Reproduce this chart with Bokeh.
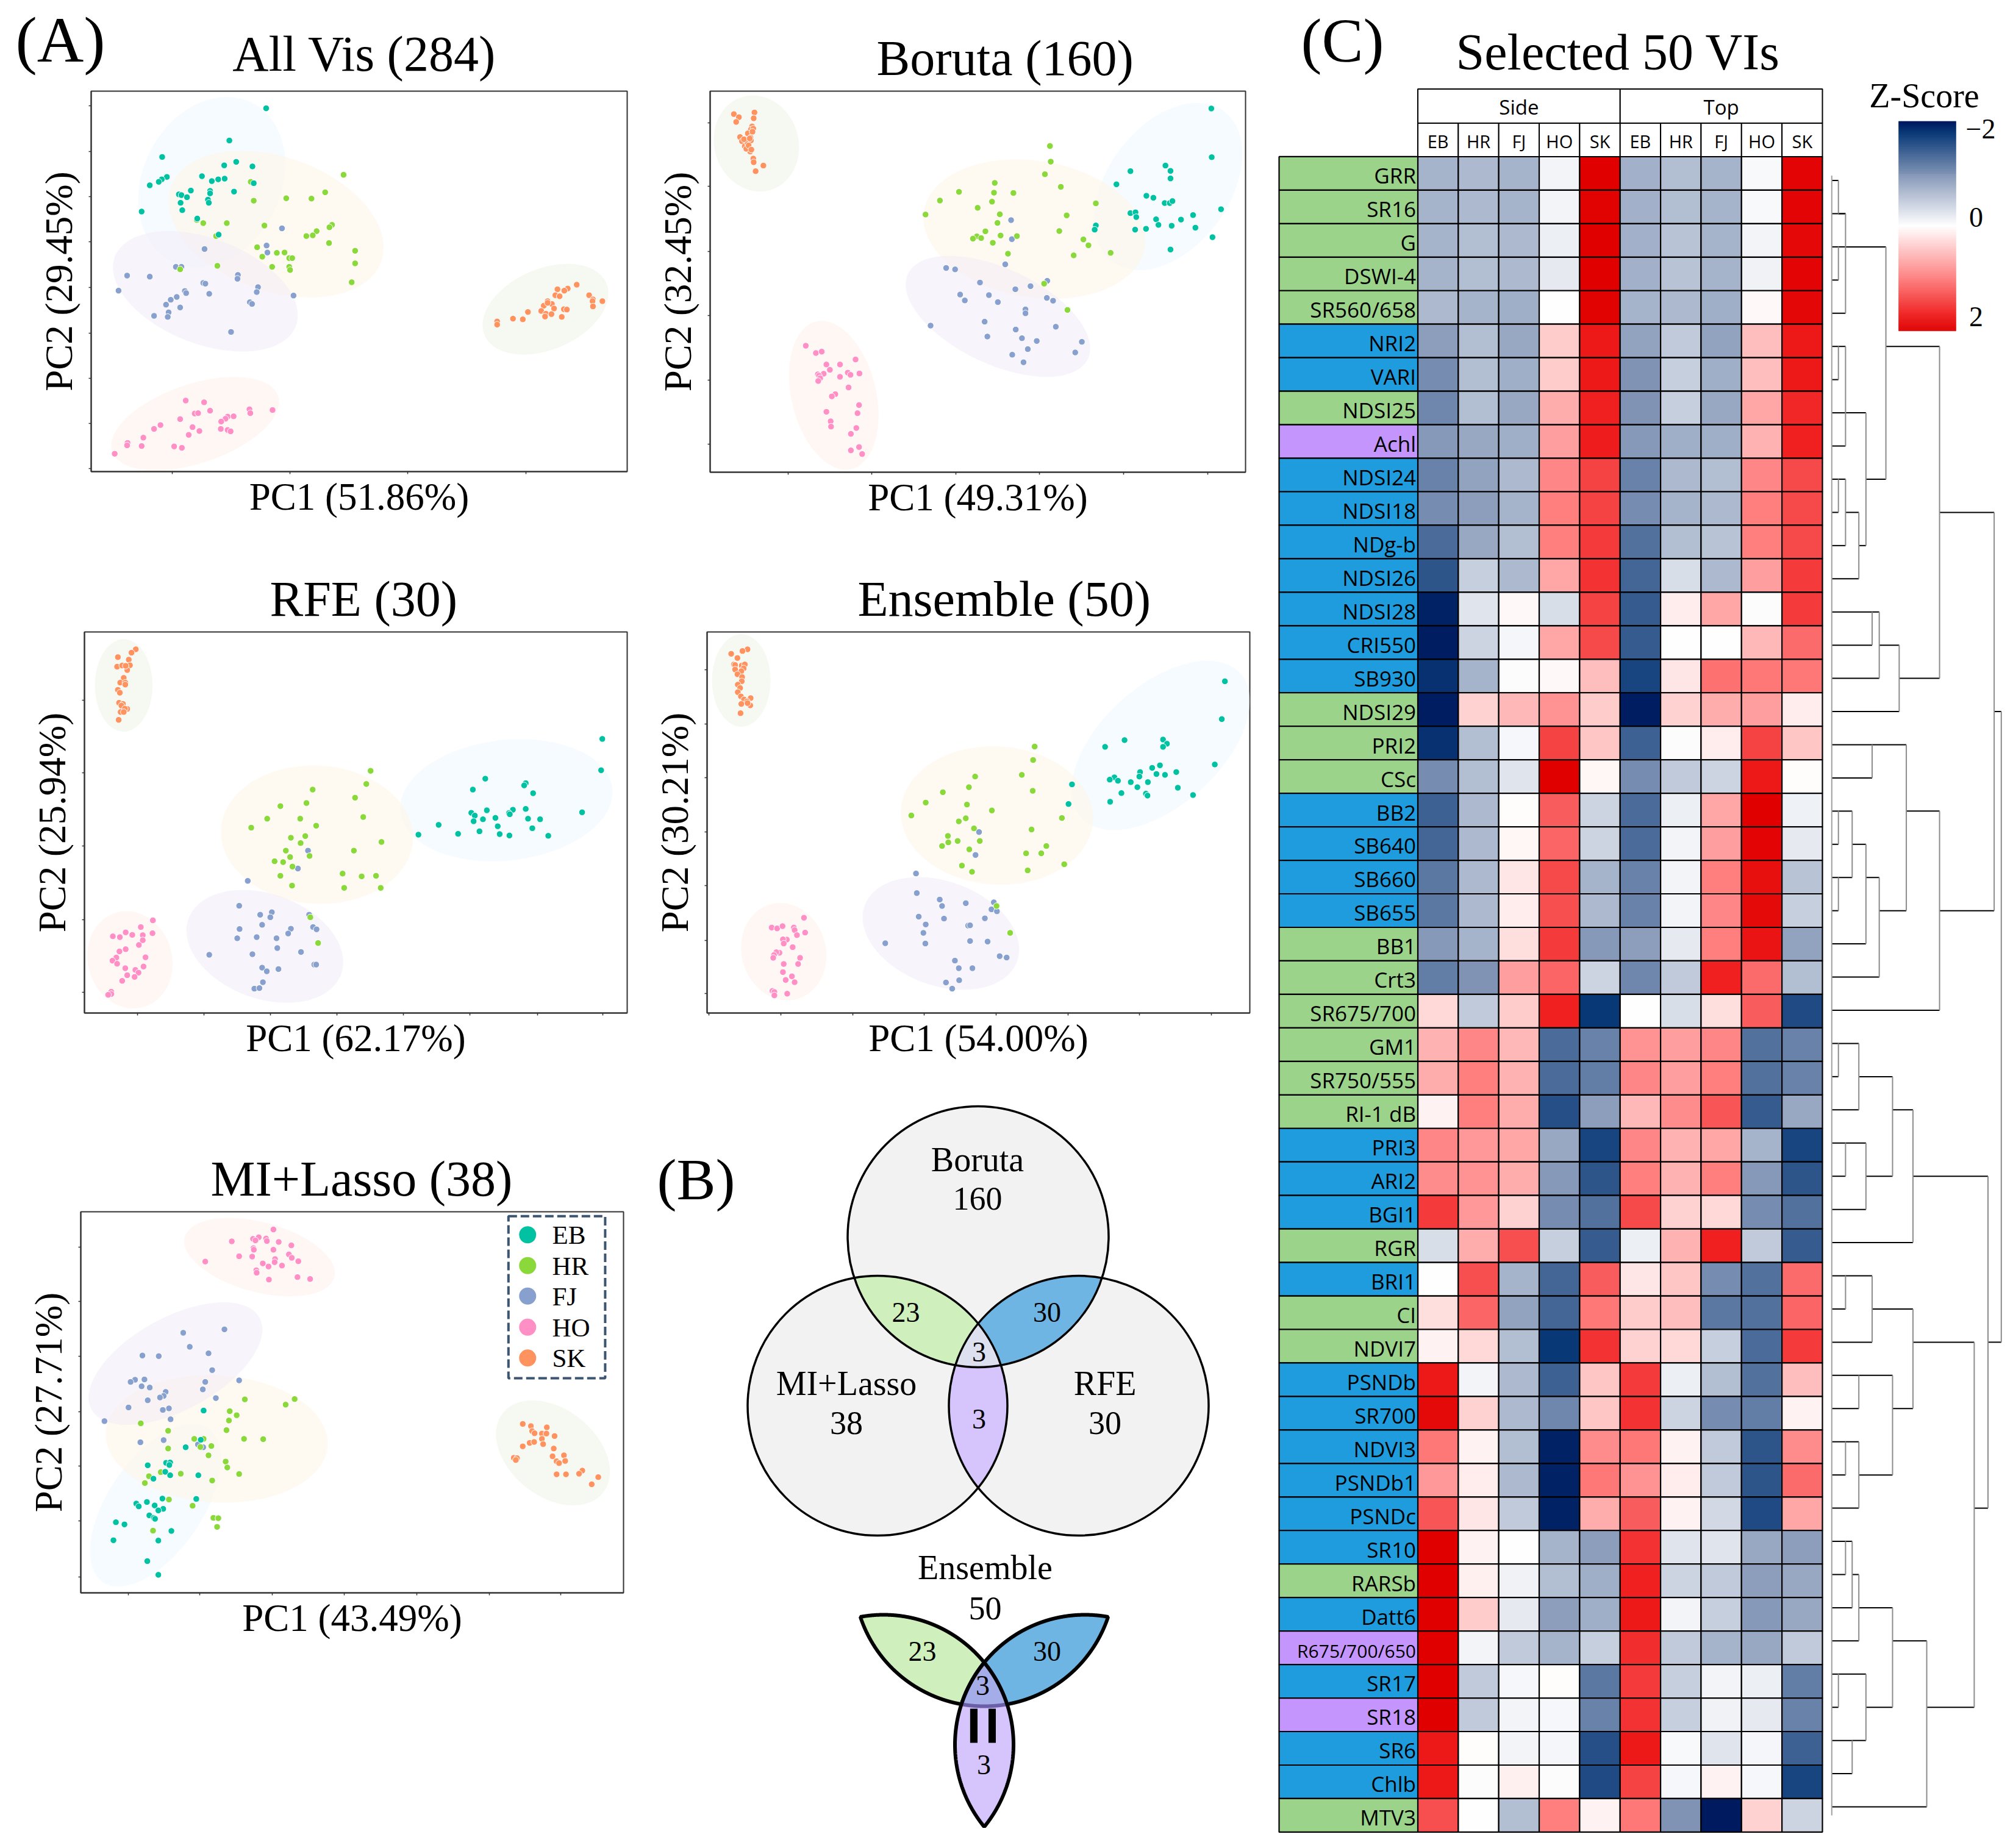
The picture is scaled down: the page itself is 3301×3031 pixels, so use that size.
import numpy as np
from bokeh.plotting import figure
from bokeh.layouts import row, column
from bokeh.embed import file_html
from bokeh.resources import INLINE
from bokeh.core.properties import value
from bokeh.models import Range1d, FixedTicker, LinearColorMapper, ColumnDataSource

SERIF = "Liberation Serif"
SANS = "Open Sans"
GROUPS = ["EB", "HR", "FJ", "HO", "SK"]
COLORS = {"EB": "#00c2a2", "HR": "#8bd83a", "FJ": "#87a0ce", "HO": "#ff8fc4", "SK": "#ff9360"}
HALO = {"EB": "#eef8ff", "HR": "#fff5e4", "FJ": "#f1e9f8", "HO": "#fff0e8", "SK": "#edf3e6"}
BASE_K = 0.36

# ---- PCA scores (arbitrary units, PC2 grows downward in the units used here) ----
allvis_EB = [(622,309),(536,401),(379,448),(524,472),(552,462),(590,475),(472,503),(390,505),(378,512),(371,519),(350,529),(495,517),(510,512),(525,510),(593,523),(446,544),(418,555),(424,557),(437,563),(491,545),(491,552),(547,547),(486,570),(488,579),(422,579),(426,600),(331,604),(461,624),(511,670)]
allvis_HR = [(803,499),(586,519),(760,549),(593,573),(669,566),(728,567),(475,637),(530,637),(618,644),(776,642),(770,649),(740,660),(731,672),(716,674),(505,674),(769,694),(601,706),(647,722),(665,721),(830,716),(613,733),(676,737),(683,737),(636,762),(676,762),(678,771),(830,752),(508,759),(421,769),(822,806),(460,628)]
allvis_FJ = [(659,652),(623,701),(478,711),(625,721),(411,762),(424,762),(297,787),(350,790),(556,785),(555,796),(475,808),(480,810),(603,820),(600,834),(277,830),(432,831),(435,837),(489,839),(413,848),(399,856),(388,870),(584,863),(589,868),(686,844),(421,878),(394,892),(360,902),(392,905),(540,948)]
allvis_HO = [(434,1144),(477,1149),(491,1173),(583,1169),(585,1180),(637,1171),(455,1181),(463,1180),(532,1190),(546,1189),(527,1196),(517,1204),(421,1197),(375,1214),(360,1225),(450,1220),(516,1225),(532,1228),(539,1232),(466,1231),(441,1242),(335,1250),(298,1265),(297,1272),(331,1274),(407,1275),(425,1279),(268,1296)]
allvis_SK = [(1348,813),(1303,826),(1327,824),(1319,830),(1298,843),(1308,846),(1377,843),(1386,855),(1385,860),(1408,860),(1386,875),(1280,860),(1290,868),(1271,873),(1280,865),(1295,881),(1265,888),(1318,883),(1325,884),(1234,891),(1276,896),(1289,897),(1274,904),(1313,905),(1199,910),(1222,912),(1162,918),(1162,927)]
allvis_ell = {"EB":(495,520,248,165,75),"HR":(645,640,270,185,-30),"FJ":(480,832,235,145,-30),"HO":(456,1210,210,110,25),"SK":(1275,883,162,110,35)}

boruta_EB = [(1390,168),(1391,342),(1272,372),(1285,391),(1182,392),(1285,418),(1146,439),(1223,480),(1241,487),(1270,506),(1283,506),(1290,499),(1415,528),(1182,542),(1195,539),(1197,556),(1248,564),(1343,549),(1312,565),(1093,586),(1090,601),(1194,601),(1222,598),(1254,584),(1288,587),(1349,594),(1393,628),(1285,672)]
boruta_HR = [(975,302),(977,358),(962,403),(833,434),(1003,448),(741,466),(831,469),(881,470),(692,497),(826,501),(1093,507),(789,523),(655,547),(846,546),(1018,550),(840,577),(809,607),(999,606),(848,622),(890,624),(787,625),(777,633),(798,631),(1061,636),(828,648),(1074,657),(867,687),(1131,684),(1036,693),(960,794),(1020,888)]
boruta_FJ = [(875,567),(877,635),(860,725),(708,738),(731,743),(968,784),(795,790),(925,803),(886,814),(744,833),(818,835),(756,854),(841,860),(967,845),(983,855),(912,886),(912,900),(668,944),(807,930),(990,948),(887,958),(814,983),(903,989),(941,999),(1057,1002),(918,1028),(878,1048),(1040,1040),(907,1075)]
boruta_HO = [(347,1016),(373,1042),(388,1037),(475,1065),(400,1083),(435,1083),(409,1102),(393,1116),(378,1118),(381,1123),(384,1132),(379,1142),(435,1127),(455,1112),(462,1120),(485,1115),(457,1165),(423,1189),(414,1197),(484,1228),(400,1252),(480,1257),(411,1286),(412,1305),(477,1310),(463,1331),(484,1378),(463,1390),(492,1403)]
boruta_SK = [(162,188),(175,199),(168,216),(215,182),(213,203),(209,232),(206,243),(212,240),(198,257),(210,251),(178,270),(205,272),(183,285),(196,285),(190,303),(197,292),(201,315),(204,322),(194,312),(206,282),(212,347),(213,360),(238,372),(218,392),(188,278),(200,300),(207,315),(203,275)]
boruta_ell = {"EB":(1279,447,312,168,70),"HR":(935,599,295,238,-25),"FJ":(841,911,281,155,-40),"HO":(419,1193,268,110,98),"SK":(220,293,172,109,95)}

rfe_EB = [(1455,504),(1452,616),(1154,646),(1258,662),(1254,670),(1122,685),(1277,698),(1403,766),(1158,759),(1225,757),(1258,754),(1118,768),(1127,778),(1215,769),(1217,773),(1180,786),(1148,791),(1124,798),(1264,789),(1295,791),(1034,811),(1186,816),(1275,823),(1139,834),(1084,843),(982,846),(1191,844),(1216,849),(1316,850)]
rfe_HR = [(859,618),(848,665),(710,685),(819,714),(694,733),(627,744),(840,783),(593,789),(678,789),(719,814),(552,821),(691,851),(654,857),(679,876),(887,872),(641,903),(816,903),(702,922),(652,926),(612,941),(634,944),(658,960),(787,985),(627,993),(836,995),(873,993),(657,1028),(791,1036),(885,1036),(704,1141),(724,1233)]
rfe_FJ = [(521,1100),(605,1123),(575,1132),(601,1141),(701,1132),(580,1168),(522,1183),(654,1182),(711,1176),(720,1184),(647,1199),(566,1212),(516,1216),(617,1216),(619,1251),(444,1275),(555,1273),(680,1265),(714,1310),(719,1310),(580,1321),(622,1326),(592,1334),(582,1373),(560,1396),(573,1394),(698,903),(672,967),(543,1011)]
rfe_HO = [(299,1152),(268,1176),(298,1198),(229,1195),(246,1204),(273,1205),(196,1209),(214,1212),(273,1223),(263,1240),(229,1255),(213,1263),(280,1284),(205,1285),(195,1296),(207,1307),(275,1317),(228,1323),(254,1329),(262,1339),(233,1348),(252,1354),(220,1368),(192,1407),(192,1415),(184,1418)]
rfe_SK = [(255,184),(244,196),(209,212),(237,221),(207,246),(220,242),(240,241),(233,258),(229,243),(224,286),(215,303),(228,303),(228,310),(209,329),(214,339),(212,375),(222,379),(218,385),(233,397),(227,396),(216,408),(224,408),(211,436)]
rfe_ell = {"EB":(1208,723,277,213,15),"HR":(721,846,252,242,-45),"FJ":(587,1245,228,171,-45),"HO":(240,1293,174,109,95),"SK":(224,313,165,74,90)}

ensemble_EB = [(1424,298),(1416,433),(1166,508),(1265,506),(1275,521),(1265,532),(1116,532),(1398,595),(1257,598),(1237,607),(1206,622),(1299,622),(1248,629),(1270,632),(1204,638),(1140,641),(1128,649),(1149,653),(1182,658),(1226,658),(1031,666),(1199,676),(1303,678),(1158,697),(1221,699),(1225,706),(1342,704),(1129,728),(1022,736)]
ensemble_HR = [(935,531),(931,579),(902,632),(782,638),(766,676),(699,694),(930,689),(655,731),(761,738),(825,759),(618,777),(758,787),(1005,786),(740,798),(779,823),(927,827),(712,850),(794,868),(713,873),(737,868),(697,886),(965,886),(767,898),(913,912),(952,912),(748,956),(1011,951),(774,978),(917,973),(837,1100),(872,1196)]
ensemble_FJ = [(792,836),(783,918),(630,984),(632,1054),(691,1077),(697,1100),(758,1090),(830,1087),(824,1112),(838,1119),(637,1138),(702,1145),(807,1144),(655,1166),(764,1170),(769,1169),(649,1196),(551,1233),(654,1234),(769,1225),(814,1227),(845,1279),(863,1284),(730,1295),(740,1322),(775,1322),(741,1365),(707,1373),(723,1395)]
ensemble_HO = [(342,1142),(259,1177),(273,1180),(287,1172),(316,1177),(318,1186),(345,1195),(324,1204),(298,1220),(288,1219),(290,1234),(313,1247),(279,1267),(271,1265),(265,1275),(263,1285),(332,1285),(290,1307),(327,1307),(288,1336),(311,1351),(295,1364),(318,1372),(261,1403),(266,1407),(266,1419),(299,1413)]
ensemble_SK = [(197,184),(184,190),(155,200),(171,215),(162,238),(165,240),(182,242),(190,238),(187,252),(165,256),(181,262),(171,273),(183,283),(182,298),(172,310),(178,322),(172,337),(180,352),(205,358),(188,363),(196,370),(181,379),(204,384),(197,376),(179,412)]
ensemble_ell = {"EB":(1259,527,336,175,59),"HR":(838,777,252,242,-45),"FJ":(694,1198,228,170,-45),"HO":(290,1263,174,109,95),"SK":(181,295,165,75,90)}

milasso_EB = [(498,809),(491,903),(454,927),(406,977),(416,976),(361,985),(414,984),(404,1006),(416,1017),(485,1017),(375,1028),(397,1092),(480,1093),(359,1103),(333,1108),(378,1114),(339,1117),(399,1125),(387,1130),(365,1146),(376,1154),(379,1157),(283,1168),(304,1175),(419,1196),(277,1226),(387,1227),(360,1293),(387,1337)]
milasso_HR = [(721,772),(599,773),(699,790),(562,811),(579,824),(560,841),(344,850),(554,872),(411,874),(475,900),(498,900),(597,900),(644,901),(517,923),(490,926),(411,931),(510,953),(552,973),(556,992),(442,1012),(393,1007),(585,1013),(364,1020),(519,1034),(354,1042),(413,1095),(471,1115),(522,1154),(534,1155),(531,1183),(374,1195)]
milasso_FJ = [(549,548),(448,559),(464,604),(510,625),(348,632),(388,634),(519,679),(353,709),(330,710),(319,717),(502,717),(585,712),(346,731),(366,735),(496,741),(405,749),(400,762),(391,767),(361,776),(528,769),(314,799),(413,802),(398,807),(417,837),(255,843),(400,904),(343,911),(484,918),(497,927)]
milasso_HO = [(669,227),(633,252),(651,256),(619,257),(567,265),(625,262),(653,264),(682,267),(713,278),(620,287),(621,292),(669,292),(707,307),(714,318),(585,313),(617,314),(673,322),(672,332),(730,329),(502,330),(643,336),(657,346),(690,343),(627,358),(628,366),(728,380),(759,386),(658,388)]
milasso_SK = [(1280,852),(1300,859),(1339,863),(1303,875),(1309,882),(1327,883),(1338,883),(1358,891),(1327,900),(1280,924),(1297,913),(1308,910),(1330,917),(1356,931),(1381,953),(1353,956),(1258,961),(1266,962),(1263,968),(1363,972),(1384,971),(1369,978),(1363,1014),(1386,1014),(1426,1002),(1418,1012),(1465,1023),(1449,1046)]
milasso_ell = {"EB":(380,1113,281,123,66),"HR":(530,900,273,204,-7),"FJ":(429,658,256,136,41),"HO":(635,316,195,109,-23),"SK":(1354,945,183,120,-59)}

# ---- heatmap ----
vi_names = ["GRR","SR16","G","DSWI-4","SR560/658","NRI2","VARI","NDSI25","Achl","NDSI24","NDSI18","NDg-b","NDSI26","NDSI28","CRI550","SB930","NDSI29","PRI2","CSc","BB2","SB640","SB660","SB655","BB1","Crt3","SR675/700","GM1","SR750/555","RI-1 dB","PRI3","ARI2","BGI1","RGR","BRI1","CI","NDVI7","PSNDb","SR700","NDVI3","PSNDb1","PSNDc","SR10","RARSb","Datt6","R675/700/650","SR17","SR18","SR6","Chlb","MTV3"]
vi_group = ["g","g","g","g","g","b","b","g","p","b","b","b","b","b","b","b","g","g","g","b","b","b","b","g","g","g","g","g","g","b","b","b","g","b","g","g","b","b","b","b","b","b","g","b","p","b","p","b","b","g"]
col_names = ["EB","HR","FJ","HO","SK","EB","HR","FJ","HO","SK"]
zscores = [
[-.7,-.65,-.7,-.1,2,-.72,-.6,-.7,-.05,1.95],
[-.7,-.65,-.7,-.1,1.97,-.72,-.6,-.7,-.05,1.95],
[-.7,-.6,-.65,-.15,2,-.72,-.55,-.7,-.1,1.92],
[-.7,-.6,-.65,-.2,2,-.72,-.55,-.7,-.12,1.95],
[-.65,-.7,-.75,0,1.98,-.7,-.65,-.75,.05,1.93],
[-.9,-.6,-.8,.4,1.75,-.85,-.5,-.85,.5,1.75],
[-1.05,-.6,-.75,.4,1.75,-1,-.45,-.75,.5,1.75],
[-1.1,-.6,-.8,.65,1.7,-1,-.45,-.8,.7,1.65],
[-.95,-.8,-.75,.75,1.72,-.95,-.75,-.75,.6,1.7],
[-1.15,-.85,-.65,.95,1.45,-1.15,-.65,-.6,.95,1.4],
[-1.05,-.9,-.7,1.0,1.45,-1.05,-.7,-.65,1.0,1.4],
[-1.35,-.8,-.6,1.0,1.5,-1.3,-.6,-.55,1.0,1.4],
[-1.55,-.45,-.65,.7,1.55,-1.4,-.3,-.65,.75,1.5],
[-1.95,-.25,.05,-.3,1.45,-1.5,.15,.7,-.03,1.5],
[-1.97,-.4,-.08,.7,1.4,-1.5,0,0,.55,1.15],
[-1.85,-.7,-.03,.05,.5,-1.7,.2,1.1,1.05,1.05],
[-1.97,.35,.55,.85,.4,-1.98,.35,.65,.75,.15],
[-1.85,-.6,-.07,1.45,.45,-1.45,-.02,.15,1.45,.45],
[-1.05,-.6,-.25,2,.07,-1.05,-.5,-.4,1.75,.02],
[-1.45,-.65,.03,1.25,-.4,-1.35,-.15,.7,2,-.13],
[-1.4,-.65,.07,1.2,-.4,-1.35,-.1,.75,1.95,-.2],
[-1.25,-.65,.2,1.4,-.7,-1.15,-.1,1,1.85,-.55],
[-1.25,-.65,.15,1.35,-.65,-1.15,-.1,.95,1.9,-.45],
[-.95,-.7,.25,1.5,-.95,-.9,-.2,1.0,1.8,-.85],
[-1.2,-1.0,.75,1.2,-.4,-1.1,-.5,1.7,1.15,-.6],
[.3,-.5,.4,1.7,-1.8,0,-.3,.25,1.25,-1.65],
[.6,.95,.55,-1.35,-1.15,.85,.75,.95,-1.3,-1.15],
[.65,1.0,.6,-1.35,-1.2,.95,.75,1.0,-1.3,-1.15],
[.1,1.0,.65,-1.6,-.9,.55,.9,1.3,-1.5,-.8],
[.95,.8,.7,-.8,-1.7,.95,.6,.7,-.7,-1.7],
[.9,.85,.65,-.95,-1.55,1,.6,1.0,-.95,-1.55],
[1.5,.8,.35,-1.05,-1.3,1.4,.35,.3,-1.05,-1.3],
[-.3,.65,1.35,-.45,-1.5,-.15,.6,1.7,-.5,-1.5],
[0,1.35,-.7,-1.4,1.25,.2,.45,-1.05,-1.3,1.15],
[.25,1.2,-.85,-1.4,1.05,.4,.5,-1.25,-1.3,1.2],
[.1,.3,-.6,-1.8,1.55,.35,.3,-.45,-1.35,1.5],
[1.75,-.1,-.65,-1.45,.45,1.5,-.15,-.6,-1.3,.5],
[1.9,.35,-.65,-1.1,.45,1.55,-.4,-1.05,-1.2,.1],
[1.05,.1,-.6,-1.95,.9,1.05,.1,-.5,-1.55,.9],
[.8,.15,-.65,-1.95,1.05,.85,.15,-.5,-1.55,1.15],
[1.3,.2,-.5,-1.95,.65,1.25,.1,-.35,-1.65,.7],
[2,.1,0,-.7,-.9,1.55,-.25,-.25,-.8,-.9],
[2,.12,-.12,-.6,-.75,1.7,-.4,-.5,-.9,-.8],
[2,.4,-.2,-.9,-.75,1.75,-.1,-.45,-.95,-.8],
[2,-.1,-.5,-.7,-.45,1.6,-.5,-.7,-.8,-.5],
[2,-.5,-.07,.02,-1.25,1.5,-.45,-.1,-.15,-1.2],
[2,-.5,-.1,-.07,-1.15,1.55,-.45,-.12,-.2,-1.15],
[1.75,.02,-.1,-.08,-1.6,1.75,-.05,-.25,-.08,-1.45],
[1.75,-.03,.12,-.03,-1.65,1.45,-.07,.1,-.07,-1.7],
[1.35,0,-.6,1.0,.1,1.05,-1,-2,.35,-.4],
]
# dendrogram: merge height (arbitrary), first row, last row, row of the stem, parent height
leaf_parent = [1192,1207,1192,1192,1207,1192,1192,1207,1207,1192,1192,1207,1235,1263,1263,1278,1320,1263,1263,1192,1192,1192,1192,1250,1278,1405,1192,1192,1235,1207,1207,1250,1349,1207,1207,1263,1235,1235,1207,1207,1235,1207,1207,1221,1235,1192,1192,1221,1221,1378]
merges = [(1192,0,1,1,1207),(1192,2,3,2,1207),(1207,1,4,2,1292),(1192,5,6,5,1207),(1207,5,8,7,1250),(1192,9,10,9,1207),(1207,9,11,10,1235),(1235,10,12,11,1250),(1250,7,11,9,1292),(1292,2,9,5,1405),
(1263,13,14,13,1278),(1278,13,15,14,1320),(1320,14,16,15,1405),(1405,5,15,10,1520),(1263,17,18,17,1335),(1192,19,20,19,1221),(1192,21,22,21,1221),(1221,19,21,20,1250),(1250,20,23,21,1278),(1278,21,24,22,1335),(1335,17,22,19,1405),(1405,19,25,22,1520),(1520,10,22,16,1535),
(1192,26,27,26,1235),(1235,26,28,27,1306),(1207,29,30,29,1250),(1250,29,31,30,1306),(1306,27,30,28,1349),(1349,28,32,30,1507),(1207,33,34,33,1263),(1263,33,35,34,1349),(1235,36,37,36,1306),(1207,38,39,38,1235),(1235,38,40,39,1306),(1306,36,39,37,1349),(1349,34,37,35,1478),
(1207,41,42,41,1221),(1221,41,43,42,1235),(1235,42,44,43,1306),(1192,45,46,45,1250),(1221,47,48,47,1250),(1250,45,47,46,1306),(1306,43,46,44,1378),(1378,44,49,46,1478),(1478,35,46,40,1507),(1507,30,40,35,1535),(1535,16,35,35,1535)]
# Venn counts
venn_labels = [("Boruta","160"),("MI+Lasso","38"),("RFE","30")]
venn_pairs = ["23","30","3"]
venn_triple = "3"
ensemble_total = ("Ensemble","50")
legend_y = [244, 343, 441, 541, 640]


def style_panel(p):
    p.xgrid.visible = False
    p.ygrid.visible = False
    p.outline_line_color = "#333333"
    p.outline_line_width = 2
    for ax in (p.xaxis[0], p.yaxis[0]):
        ax.axis_line_color = "#333333"
        ax.axis_line_width = 2
        ax.major_tick_line_color = "#333333"
        ax.major_tick_line_width = 1.5
        ax.major_tick_in = 0
        ax.major_tick_out = 4
        ax.minor_tick_line_color = None
        ax.major_label_text_font_size = "1px"
        ax.major_label_text_color = None
        ax.major_label_standoff = 0
        ax.axis_label_text_font = SERIF
        ax.axis_label_text_font_style = "normal"
        ax.axis_label_text_font_size = "63px"
        ax.axis_label_text_color = "black"


def panel(title, xl, yl, data, ell, xr, yr, xt, yt, W, H, left, top, fw, fh, t_off, tstand=18, xstand=2, ystand=14):
    p = figure(width=W, height=H, x_range=Range1d(*xr), y_range=Range1d(*yr),
               output_backend="svg", toolbar_location=None,
               min_border_left=left, min_border_right=W-left-fw,
               min_border_top=top, min_border_bottom=H-top-fh)
    p.frame_align = False
    style_panel(p)
    if title:
        p.title.text = title
        p.title.text_font = SERIF
        p.title.text_font_style = "normal"
        p.title.text_font_size = "82px"
        p.title.text_color = "black"
        p.title.align = "left"
        p.title.offset = t_off
        p.title.standoff = tstand
    else:
        p.title.visible = False
    p.xaxis.axis_label = xl
    p.yaxis.axis_label = yl
    p.xaxis.ticker = FixedTicker(ticks=xt)
    p.yaxis.ticker = FixedTicker(ticks=yt)
    p.xaxis.axis_label_standoff = xstand
    p.yaxis.axis_label_standoff = ystand
    t = np.linspace(0, 2*np.pi, 181)
    for g in ["EB", "HR", "FJ", "HO", "SK"]:
        cx, cy, a, b, th = ell[g]
        th = np.radians(th)
        ex = cx + a*np.cos(t)*np.cos(th) - b*np.sin(t)*np.sin(th)
        ey = cy - (a*np.cos(t)*np.sin(th) + b*np.sin(t)*np.cos(th))
        p.patch(ex, ey, fill_color=HALO[g], fill_alpha=0.5, line_color=None)
    for g in ["FJ", "HR", "EB", "HO", "SK"]:
        xy = np.array(data[g])
        p.scatter(xy[:, 0], xy[:, 1], size=10.5, fill_color=COLORS[g], line_color="white", line_width=1)
    return p


def vtext(pf, x, y, s, size, font=SERIF, align="center", **kw):
    pf.text(x=[x], y=[y-BASE_K*size], text=[s], text_font=value(font), text_font_size=f"{size}px",
            text_align=align, text_baseline="alphabetic", text_color="black", **kw)


def sheet(x0, x1, y0, y1):
    s = figure(width=x1-x0, height=y1-y0, x_range=Range1d(x0, x1), y_range=Range1d(y1, y0),
               output_backend="svg", toolbar_location=None, min_border=0)
    s.frame_align = False
    s.axis.visible = False
    s.grid.visible = False
    s.outline_line_color = None
    return s


# header of the first column holds panel letter and first title
hdr = sheet(0, 1040, 0, 140)
vtext(hdr, 25, 103, "(A)", 106, align="left")
vtext(hdr, 597, 118, "All Vis (284)", 82)

p1 = panel(None, "PC1 (51.86%)", "PC2 (29.45%)",
           {"EB":allvis_EB,"HR":allvis_HR,"FJ":allvis_FJ,"HO":allvis_HO,"SK":allvis_SK}, allvis_ell,
           (213,1466), (1347,260), [403,678,953,1230], [302,433,562,691,821,951,1081,1210,1338],
           1040, 740, 149, 9, 879, 624, 230)
p3 = panel("RFE (30)", "PC1 (62.17%)", "PC2 (25.94%)",
           {"EB":rfe_EB,"HR":rfe_HR,"FJ":rfe_FJ,"HO":rfe_HO,"SK":rfe_SK}, rfe_ell,
           (123,1519), (1483,122), [259,431,602,772,943,1114,1288,1457], [365,625,887,1150,1409],
           1040, 920, 138, 156, 890, 625, 304)
p5 = panel("MI+Lasso (38)", "PC1 (43.49%)", "PC2 (27.71%)",
           {"EB":milasso_EB,"HR":milasso_HR,"FJ":milasso_FJ,"HO":milasso_HO,"SK":milasso_SK}, milasso_ell,
           (197,1527), (1395,170), [314,489,666,843,1021,1198,1373], [283,459,635,812,988,1163,1344],
           1040, 950, 132, 187, 890, 625, 213)
p2 = panel("Boruta (160)", "PC1 (49.31%)", "PC2 (32.45%)",
           {"EB":boruta_EB,"HR":boruta_HR,"FJ":boruta_FJ,"HO":boruta_HO,"SK":boruta_SK}, boruta_ell,
           (101,1478), (1468,106), [301,516,733,948,1164,1380], [219,447,680,907,1139,1367],
           1045, 880, 124, 149, 878, 625, 273)
p4 = panel("Ensemble (50)", "PC1 (54.00%)", "PC2 (30.21%)",
           {"EB":ensemble_EB,"HR":ensemble_HR,"FJ":ensemble_FJ,"HO":ensemble_HO,"SK":ensemble_SK}, ensemble_ell,
           (93,1488), (1482,122), [97,283,467,651,836,1021,1205,1389], [257,451,643,835,1028,1222,1412],
           1045, 870, 119, 156, 890, 625, 247)

# legend of the last panel
p5.rect([(1245+1482)/2], [(184+705)/2], width=1482-1245, height=705-184, fill_color="white", line_color="#3c5570",
        line_width=4, line_dash="14 6")
p5.scatter([1292]*5, legend_y, size=28, fill_color=[COLORS[g] for g in GROUPS], line_color=None)
p5.text([1352]*5, [y+31-BASE_K*43/0.51 for y in legend_y], text=GROUPS, text_font=value(SERIF), text_font_size="43px",
        text_baseline="alphabetic", text_color="black")

# ---- Venn ----
pv = sheet(1040, 2085, 1750, 3015)


def region(circles):
    cx = np.mean([c[0] for c in circles])
    cy = np.mean([c[1] for c in circles])
    phi = np.linspace(0, 2*np.pi, 1441)
    d = np.full(phi.shape, np.inf)
    for (x, y, r) in circles:
        ox, oy = cx-x, cy-y
        ux, uy = np.cos(phi), np.sin(phi)
        bb = ox*ux + oy*uy
        cc = ox*ox + oy*oy - r*r
        d = np.minimum(d, -bb + np.sqrt(bb*bb - cc))
    return cx + d*np.cos(phi), cy + d*np.sin(phi)


CT, CL, CR = (1603.5, 2028, 214), (1438.5, 2305, 213), (1768.5, 2305, 213)
for c in (CT, CL, CR):
    pv.circle(x=[c[0]], y=[c[1]], radius=c[2], fill_color="#f2f2f2", line_color=None)
GREEN, BLUE, PURPLE = "#cff0bc", "#6fb5e3", "#d6c5fd"
for pair, col in (((CT, CL), GREEN), ((CT, CR), BLUE), ((CL, CR), PURPLE)):
    x, y = region(pair)
    pv.patch(x, y, fill_color=col, line_color=None)
x, y = region((CT, CL, CR))
pv.patch(x, y, fill_color="#dde0ef", line_color=None)
for c in (CT, CL, CR):
    pv.circle(x=[c[0]], y=[c[1]], radius=c[2], fill_color=None, line_color="black", line_width=3.5)

DX, DY = 10, 556
sh = lambda c: (c[0]+DX, c[1]+DY, c[2])
x, y = region((sh(CT), sh(CL)))
pv.patch(x, y, fill_color=GREEN, line_color="black", line_width=6)
x, y = region((sh(CT), sh(CR)))
pv.patch(x, y, fill_color=BLUE, line_color="black", line_width=6)
lx_, ly_ = region((sh(CL), sh(CR)))
pv.patch(lx_, ly_, fill_color=PURPLE, line_color=None)
x, y = region((sh(CT), sh(CL), sh(CR)))
pv.patch(x, y, fill_color="#a5ade8", line_color="#6a5fa8", line_width=6)
pv.patch(lx_, ly_, fill_color=None, line_color="black", line_width=6)

vtext(pv, 1077, 1969, "(B)", 96, align="left")
vtext(pv, 1602.5, 1922, venn_labels[0][0], 56)
vtext(pv, 1602.5, 1985, venn_labels[0][1], 54)
vtext(pv, 1387.5, 2289, venn_labels[1][0], 56)
vtext(pv, 1387.5, 2353, venn_labels[1][1], 54)
vtext(pv, 1811.6, 2289, venn_labels[2][0], 56)
vtext(pv, 1811.6, 2353, venn_labels[2][1], 54)
vtext(pv, 1485, 2169, venn_pairs[0], 46)
vtext(pv, 1716.5, 2169, venn_pairs[1], 46)
vtext(pv, 1605, 2234, venn_triple, 46)
vtext(pv, 1605, 2344, venn_pairs[2], 46)
vtext(pv, 1615, 2591, ensemble_total[0], 56)
vtext(pv, 1615, 2657, ensemble_total[1], 54)
vtext(pv, 1512, 2725, venn_pairs[0], 46)
vtext(pv, 1716.5, 2725, venn_pairs[1], 46)
vtext(pv, 1611, 2781, venn_triple, 46)
vtext(pv, 1613, 2911, venn_pairs[2], 46)
pv.text(x=[1610], y=[2830], text=["="], angle=np.pi/2, text_font=value("Liberation Sans"), text_font_style="bold",
        text_font_size="112px", text_align="center", text_baseline="middle", text_color="black")

# ---- Heatmap ----
pc = sheet(2085, 3293, 0, 3015)

stops = [(-2, (0, 26, 96)), (-1.8, (10, 58, 120)), (-1, (127, 147, 181)), (0, (255, 255, 255)), (1, (255, 128, 128)), (1.7, (240, 32, 32)), (2, (224, 0, 0))]
zs = np.linspace(-2, 2, 256)
palette = []
for z in zs:
    rgb = [np.interp(z, [s[0] for s in stops], [s[1][k] for s in stops]) for k in range(3)]
    palette.append("#%02x%02x%02x" % tuple(int(round(v)) for v in rgb))
mapper = LinearColorMapper(palette=palette, low=-2, high=2)

HX0, CW = 2324.5, 66.35
HY0, RH = 256.4, 54.96
LBLX = 2097
GROUP_COL = {"g": "#9bd38b", "b": "#1f9cdd", "p": "#c495fd"}

zarr = np.array(zscores)
nr, nc = zarr.shape
xs, ys, vs = [], [], []
for i in range(nr):
    for j in range(nc):
        xs.append(HX0 + (j+.5)*CW)
        ys.append(HY0 + (i+.5)*RH)
        vs.append(zarr[i, j])
src = ColumnDataSource(dict(x=xs, y=ys, z=vs))
pc.rect("x", "y", width=CW, height=RH, source=src, fill_color={"field": "z", "transform": mapper},
        line_color="black", line_width=2.2)
# row annotation
rowy = [HY0 + (i+.5)*RH for i in range(nr)]
pc.rect([(LBLX+HX0)/2]*nr, rowy, width=HX0-LBLX, height=RH, fill_color=[GROUP_COL[g] for g in vi_group],
        line_color="black", line_width=2.2)
sizes = [30 if len(n) > 10 else 35 for n in vi_names]
pc.text([HX0-3]*nr, [y+16-BASE_K*s for y, s in zip(rowy, sizes)], text=vi_names, text_font=value(SANS),
        text_font_size=[f"{s}px" for s in sizes],
        text_align="right", text_baseline="alphabetic", text_color="black")
# column headers
hx = [HX0 + (j+.5)*CW for j in range(nc)]
pc.rect(hx, [229]*nc, width=CW, height=54.8, fill_color="white", line_color="black", line_width=2)
pc.text(hx, [241-BASE_K*29]*nc, text=col_names, text_font=value(SANS), text_font_size="29px", text_align="center",
        text_baseline="alphabetic", text_color="black")
pc.rect([HX0+2.5*CW, HX0+7.5*CW], [173.5]*2, width=5*CW, height=56, fill_color="white", line_color="black", line_width=2)
pc.text([HX0+2.5*CW, HX0+7.5*CW], [187-BASE_K*33]*2, text=["Side", "Top"], text_font=value(SANS), text_font_size="33px",
        text_align="center", text_baseline="alphabetic", text_color="black")
vtext(pc, 2133, 103, "(C)", 102, align="left")
vtext(pc, 2653, 115, "Selected 50 VIs", 84)
vtext(pc, 3155, 177, "Z-Score", 56)
# colour bar
edges = np.linspace(198.4, 542.3, 173)
cbz = np.linspace(-2, 2, 172)
cb_src = ColumnDataSource(dict(t=edges[:-1], b=edges[1:], z=cbz))
pc.quad(left=3113, right=3207, top="t", bottom="b", source=cb_src, fill_color={"field": "z", "transform": mapper},
        line_color={"field": "z", "transform": mapper}, line_width=0.5)
vtext(pc, 3223, 228, "\u22122", 46, align="left")
vtext(pc, 3240, 373, "0", 46)
vtext(pc, 3240, 536, "2", 46)
# dendrogram
DX0 = 3003.3
KX = 0.7787
ly = lambda i: 295.5 + 54.44*i
lx = lambda h: DX0 + (h-1178)*KX
hx0 = [DX0]*50 + [lx(m[0]) for m in merges]
hx1 = [lx(h) for h in leaf_parent] + [lx(m[4]) for m in merges]
hy = [ly(i) for i in range(50)] + [ly(m[3]) for m in merges]
pc.segment(hx0, hy, hx1, hy, line_color="black", line_width=2)
pc.segment([lx(m[0]) for m in merges], [ly(m[1]) for m in merges], [lx(m[0]) for m in merges], [ly(m[2]) for m in merges],
           line_color="#8c8c8c", line_width=2)
pc.segment([DX0], [ly(0)-8], [DX0], [ly(49)+14], line_color="#a0a0a0", line_width=2)

layout = row(column(hdr, p1, p3, p5), column(p2, p4, pv), pc)
open("out.html", "w").write(file_html(layout, INLINE))
